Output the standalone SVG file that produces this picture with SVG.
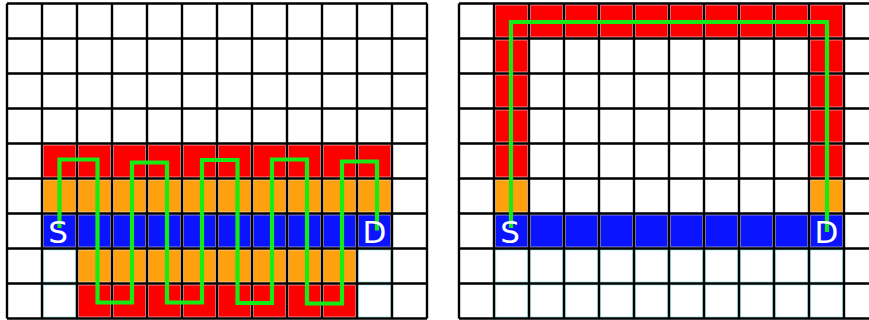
<svg xmlns="http://www.w3.org/2000/svg" width="869" height="320" viewBox="0 0 869 320">
<style>
.r{fill:#ff0000;stroke:#ff8a8a;stroke-width:1}
.o{fill:#ffa00f;stroke:#ffd08a;stroke-width:1}
.b{fill:#0a14ff;stroke:#8a8ad0;stroke-width:1}
.w{fill:#ffffff;stroke:#b8f4f4;stroke-width:1.2}
.grid{fill:none;stroke:#000;stroke-width:2.4}
.wire{fill:none;stroke:#14ec14;stroke-width:4.2;stroke-linejoin:miter;stroke-linecap:butt}
.lbl{font-family:"DejaVu Sans",sans-serif;font-size:31px;fill:#ffffff;text-anchor:middle}
</style>
<rect x="0" y="0" width="869" height="320" fill="#ffffff"/>
<g id="left-grid">
 <g id="left-cells">
  <rect class="r" x="43.5" y="145" width="32" height="32"/><rect class="r" x="78.5" y="145" width="32" height="32"/><rect class="r" x="113.5" y="145" width="32" height="32"/><rect class="r" x="148.5" y="145" width="32" height="32"/><rect class="r" x="183.5" y="145" width="32" height="32"/><rect class="r" x="218.5" y="145" width="32" height="32"/><rect class="r" x="253.5" y="145" width="32" height="32"/><rect class="r" x="288.5" y="145" width="32" height="32"/><rect class="r" x="323.5" y="145" width="32" height="32"/><rect class="r" x="358.5" y="145" width="32" height="32"/>
  <rect class="o" x="43.5" y="180" width="32" height="32"/><rect class="o" x="78.5" y="180" width="32" height="32"/><rect class="o" x="113.5" y="180" width="32" height="32"/><rect class="o" x="148.5" y="180" width="32" height="32"/><rect class="o" x="183.5" y="180" width="32" height="32"/><rect class="o" x="218.5" y="180" width="32" height="32"/><rect class="o" x="253.5" y="180" width="32" height="32"/><rect class="o" x="288.5" y="180" width="32" height="32"/><rect class="o" x="323.5" y="180" width="32" height="32"/><rect class="o" x="358.5" y="180" width="32" height="32"/>
  <rect class="b" x="43.5" y="215" width="32" height="32"/><rect class="b" x="78.5" y="215" width="32" height="32"/><rect class="b" x="113.5" y="215" width="32" height="32"/><rect class="b" x="148.5" y="215" width="32" height="32"/><rect class="b" x="183.5" y="215" width="32" height="32"/><rect class="b" x="218.5" y="215" width="32" height="32"/><rect class="b" x="253.5" y="215" width="32" height="32"/><rect class="b" x="288.5" y="215" width="32" height="32"/><rect class="b" x="323.5" y="215" width="32" height="32"/><rect class="b" x="358.5" y="215" width="32" height="32"/>
  <rect class="w" x="43.5" y="250" width="32" height="32"/><rect class="o" x="78.5" y="250" width="32" height="32"/><rect class="o" x="113.5" y="250" width="32" height="32"/><rect class="o" x="148.5" y="250" width="32" height="32"/><rect class="o" x="183.5" y="250" width="32" height="32"/><rect class="o" x="218.5" y="250" width="32" height="32"/><rect class="o" x="253.5" y="250" width="32" height="32"/><rect class="o" x="288.5" y="250" width="32" height="32"/><rect class="o" x="323.5" y="250" width="32" height="32"/><rect class="w" x="358.5" y="250" width="32" height="32"/>
  <rect class="w" x="43.5" y="285" width="32" height="32"/><rect class="r" x="78.5" y="285" width="32" height="32"/><rect class="r" x="113.5" y="285" width="32" height="32"/><rect class="r" x="148.5" y="285" width="32" height="32"/><rect class="r" x="183.5" y="285" width="32" height="32"/><rect class="r" x="218.5" y="285" width="32" height="32"/><rect class="r" x="253.5" y="285" width="32" height="32"/><rect class="r" x="288.5" y="285" width="32" height="32"/><rect class="r" x="323.5" y="285" width="32" height="32"/><rect class="w" x="358.5" y="285" width="32" height="32"/>
 </g>
 <path class="grid" d="M7,3.5V318.5M42,3.5V318.5M77,3.5V318.5M112,3.5V318.5M147,3.5V318.5M182,3.5V318.5M217,3.5V318.5M252,3.5V318.5M287,3.5V318.5M322,3.5V318.5M357,3.5V318.5M392,3.5V318.5M427,3.5V318.5M7,3.5H427M7,38.5H427M7,73.5H427M7,108.5H427M7,143.5H427M7,178.5H427M7,213.5H427M7,248.5H427M7,283.5H427M7,318.5H427"/>
</g>
<g id="right-grid">
 <g id="right-cells">
  <rect class="r" x="495.5" y="5" width="32" height="32"/><rect class="r" x="530.5" y="5" width="32" height="32"/><rect class="r" x="565.5" y="5" width="32" height="32"/><rect class="r" x="600.5" y="5" width="32" height="32"/><rect class="r" x="635.5" y="5" width="32" height="32"/><rect class="r" x="670.5" y="5" width="32" height="32"/><rect class="r" x="705.5" y="5" width="32" height="32"/><rect class="r" x="740.5" y="5" width="32" height="32"/><rect class="r" x="775.5" y="5" width="32" height="32"/><rect class="r" x="810.5" y="5" width="32" height="32"/>
  <rect class="r" x="495.5" y="40" width="32" height="32"/><rect class="r" x="810.5" y="40" width="32" height="32"/>
  <rect class="r" x="495.5" y="75" width="32" height="32"/><rect class="r" x="810.5" y="75" width="32" height="32"/>
  <rect class="r" x="495.5" y="110" width="32" height="32"/><rect class="r" x="810.5" y="110" width="32" height="32"/>
  <rect class="r" x="495.5" y="145" width="32" height="32"/><rect class="r" x="810.5" y="145" width="32" height="32"/>
  <rect class="o" x="495.5" y="180" width="32" height="32"/><rect class="o" x="810.5" y="180" width="32" height="32"/>
  <rect class="b" x="495.5" y="215" width="32" height="32"/><rect class="b" x="530.5" y="215" width="32" height="32"/><rect class="b" x="565.5" y="215" width="32" height="32"/><rect class="b" x="600.5" y="215" width="32" height="32"/><rect class="b" x="635.5" y="215" width="32" height="32"/><rect class="b" x="670.5" y="215" width="32" height="32"/><rect class="b" x="705.5" y="215" width="32" height="32"/><rect class="b" x="740.5" y="215" width="32" height="32"/><rect class="b" x="775.5" y="215" width="32" height="32"/><rect class="b" x="810.5" y="215" width="32" height="32"/>
  <rect class="w" x="495.5" y="250" width="32" height="32"/><rect class="w" x="530.5" y="250" width="32" height="32"/><rect class="w" x="565.5" y="250" width="32" height="32"/><rect class="w" x="600.5" y="250" width="32" height="32"/><rect class="w" x="635.5" y="250" width="32" height="32"/><rect class="w" x="670.5" y="250" width="32" height="32"/><rect class="w" x="705.5" y="250" width="32" height="32"/><rect class="w" x="740.5" y="250" width="32" height="32"/><rect class="w" x="775.5" y="250" width="32" height="32"/><rect class="w" x="810.5" y="250" width="32" height="32"/>
  <rect class="w" x="495.5" y="285" width="32" height="32"/><rect class="w" x="530.5" y="285" width="32" height="32"/><rect class="w" x="565.5" y="285" width="32" height="32"/><rect class="w" x="600.5" y="285" width="32" height="32"/><rect class="w" x="635.5" y="285" width="32" height="32"/><rect class="w" x="670.5" y="285" width="32" height="32"/><rect class="w" x="705.5" y="285" width="32" height="32"/><rect class="w" x="740.5" y="285" width="32" height="32"/><rect class="w" x="775.5" y="285" width="32" height="32"/><rect class="w" x="810.5" y="285" width="32" height="32"/>
 </g>
 <path class="grid" d="M459,3.5V318.5M494,3.5V318.5M529,3.5V318.5M564,3.5V318.5M599,3.5V318.5M634,3.5V318.5M669,3.5V318.5M704,3.5V318.5M739,3.5V318.5M774,3.5V318.5M809,3.5V318.5M844,3.5V318.5M459,3.5H872M459,38.5H872M459,73.5H872M459,108.5H872M459,143.5H872M459,178.5H872M459,213.5H872M459,248.5H872M459,283.5H872M459,318.5H872"/>
</g>
<g id="connectors">
 <path class="wire" d="M59.5,228V159.5H97.5V302.5H132V162.5H167V302.5H202V160H237.5V303H272V159.5H307V303.5H342V161.5H377V230.5"/>
 <path class="wire" d="M511,228V22H827V232"/>
</g>
<g id="labels">
 <text class="lbl" x="58" y="242.5">S</text>
 <text class="lbl" x="374.5" y="242.5">D</text>
 <text class="lbl" x="510" y="242.5">S</text>
 <text class="lbl" x="826.5" y="242.5">D</text>
</g>
</svg>
